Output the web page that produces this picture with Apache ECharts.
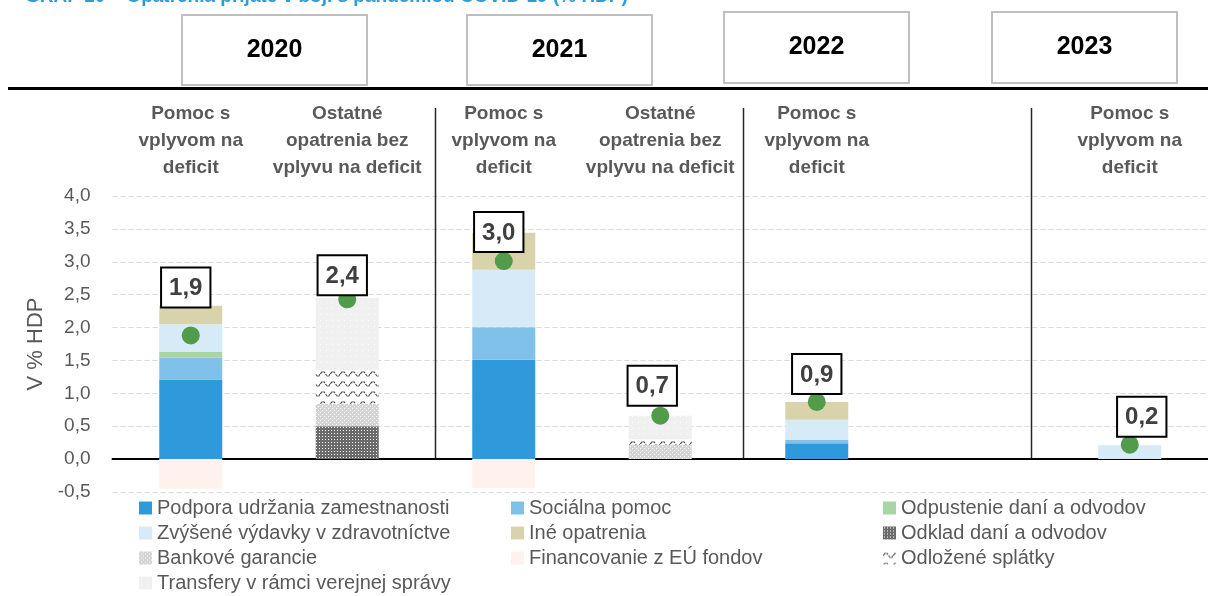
<!DOCTYPE html>
<html>
<head>
<meta charset="utf-8">
<script src="https://cdn.jsdelivr.net/npm/echarts@6/dist/echarts.min.js"></script>
<style>
html, body { margin: 0; padding: 0; background: #fff; }
#chart { width: 1208px; height: 596px; }
</style>
</head>
<body>
<div id="chart"></div>
<script>
// kategórie (7 stĺpcov, 2022 nemá druhý stĺpec)
const categories = ['2020a', '2020b', '2021a', '2021b', '2022a', '2022b', '2023a'];
const categoryLabels = [
    'Pomoc s\nvplyvom na\ndeficit',
    'Ostatné\nopatrenia bez\nvplyvu na deficit',
    'Pomoc s\nvplyvom na\ndeficit',
    'Ostatné\nopatrenia bez\nvplyvu na deficit',
    'Pomoc s\nvplyvom na\ndeficit',
    '',
    'Pomoc s\nvplyvom na\ndeficit'
];
const years = ['2020', '2021', '2022', '2023'];

// hodnoty v % HDP
const podpora      = [1.21, 0, 1.51, 0, 0.24, 0, 0];
const socialna     = [0.33, 0, 0.49, 0, 0.05, 0, 0];
const odpustenie   = [0.09, 0, 0.01, 0, 0, 0, 0];
const zdravotnictvo = [0.42, 0, 0.87, 0, 0.31, 0, 0.21];
const ine          = [0.28, 0, 0.56, 0, 0.27, 0, 0];
const odklad       = [0, 0.50, 0, 0, 0, 0, 0];
const bankove      = [0, 0.34, 0, 0.22, 0, 0, 0];
const odlozene     = [0, 0.51, 0, 0.08, 0, 0, 0];
const transfery    = [0, 1.10, 0, 0.36, 0, 0, 0];
const euFondy      = [-0.45, 0, -0.44, 0, 0, 0, 0];
const spolu        = [1.88, 2.43, 3.01, 0.66, 0.87, '-', 0.22];

// posun štítkov s hodnotou (px)
const labelNudge = [[-5, -20], [-5, 4], [-5, -1], [-8, -2], [0, 0], [0, 0], [12, 0]];

function hasFont(name) {
    const g = document.createElement('canvas').getContext('2d');
    g.font = '40px monospace';
    const a = g.measureText('abcdefghijklmn').width;
    g.font = '40px "' + name + '", monospace';
    return g.measureText('abcdefghijklmn').width !== a;
}
let NARROW = 'Liberation Sans';
let shrink = 0.84;
for (const f of ['Liberation Sans Narrow', 'Arial Narrow']) {
    if (hasFont(f)) { NARROW = f; shrink = 1; break; }
}
const fs = s => Math.round(s * shrink);

// vzory
function tile(w, h, draw) {
    const c = document.createElement('canvas');
    c.width = w; c.height = h;
    draw(c.getContext('2d'));
    return { image: c, repeat: 'repeat' };
}
const patOdklad = tile(3, 3, g => {
    g.fillStyle = '#6b6b6b'; g.fillRect(0, 0, 3, 3);
    g.fillStyle = '#fff'; g.fillRect(1, 1, 1, 1);
});
const patBankove = tile(4, 4, g => {
    g.fillStyle = '#d4d4d4'; g.fillRect(0, 0, 4, 4);
    g.fillStyle = '#fff'; g.fillRect(0, 0, 1, 1); g.fillRect(2, 2, 1, 1);
});
const patOdlozene = tile(10, 10, g => {
    g.fillStyle = '#fff'; g.fillRect(0, 0, 10, 10);
    g.strokeStyle = '#555'; g.lineWidth = 1.2;
    g.beginPath();
    g.moveTo(0, 4); g.lineTo(2.5, 1.5);
    g.moveTo(3.5, 1.5); g.lineTo(5, 3);
    g.moveTo(5.5, 4); g.lineTo(7.5, 6.5);
    g.moveTo(8.5, 6.5); g.lineTo(10, 4);
    g.stroke();
});
const patTransfery = tile(6, 6, g => {
    g.fillStyle = '#f0f0f0'; g.fillRect(0, 0, 6, 6);
    g.fillStyle = '#fff'; g.fillRect(2, 2, 1, 1);
});

const barDefs = [
    ['Podpora udržania zamestnanosti', podpora, '#2e9adb'],
    ['Sociálna pomoc', socialna, '#80c1e9'],
    ['Odpustenie daní a odvodov', odpustenie, '#a9d4a6'],
    ['Zvýšené výdavky v zdravotníctve', zdravotnictvo, '#d6eaf7'],
    ['Iné opatrenia', ine, '#d8d3ab'],
    ['Odklad daní a odvodov', odklad, patOdklad],
    ['Bankové garancie', bankove, patBankove],
    ['Odložené splátky', odlozene, patOdlozene],
    ['Transfery v rámci verejnej správy', transfery, patTransfery],
    ['Financovanie z EÚ fondov', euFondy, '#fff1ee']
];

const legendCols = [
    ['Podpora udržania zamestnanosti', 'Zvýšené výdavky v zdravotníctve', 'Bankové garancie', 'Transfery v rámci verejnej správy'],
    ['Sociálna pomoc', 'Iné opatrenia', 'Financovanie z EÚ fondov'],
    ['Odpustenie daní a odvodov', 'Odklad daní a odvodov', 'Odložené splátky']
];
const legendLeft = [139, 511, 883];

const fmt = v => v.toFixed(1).replace('.', ',');

const chart = echarts.init(document.getElementById('chart'), null, { renderer: 'canvas' });

const series = barDefs.map(([name, data, color]) => ({
    name,
    type: 'bar',
    stack: 'spolu',
    barWidth: 63,
    data,
    itemStyle: { color },
    emphasis: { disabled: true }
}));

series.push({
    name: 'Spolu',
    type: 'scatter',
    symbolSize: 18,
    z: 5,
    itemStyle: { color: '#519b4b', opacity: 1 },
    data: spolu.map((v, i) => v === '-' ? '-' : {
        value: v,
        label: { offset: labelNudge[i] }
    }),
    label: {
        show: true,
        position: 'top',
        distance: 0,
        formatter: p => fmt(p.value),
        fontFamily: NARROW,
        fontSize: fs(28),
        fontWeight: 'bold',
        color: '#404040',
        lineHeight: 32,
        backgroundColor: '#fff',
        borderColor: '#000',
        borderWidth: 2,
        padding: [4, 7, 2, 7]
    },
    emphasis: { disabled: true }
});

chart.setOption({
    animation: false,
    grid: { left: 112.5, right: -3.5, top: 196, bottom: 104 },
    legend: legendCols.map((col, i) => ({
        orient: 'vertical',
        left: legendLeft[i],
        top: 497,
        data: col,
        icon: 'rect',
        itemWidth: 13,
        itemHeight: 13,
        itemGap: 3,
        padding: 0,
        textStyle: {
            fontFamily: NARROW,
            fontSize: fs(24),
            lineHeight: 22,
            color: '#595959'
        }
    })),
    xAxis: [
        {
            type: 'category',
            data: categories,
            position: 'bottom',
            axisLine: { onZero: true, lineStyle: { color: '#000', width: 2 } },
            axisTick: { show: false },
            axisLabel: { show: false },
            splitLine: { show: false }
        },
        {
            type: 'category',
            data: categories,
            position: 'top',
            axisLine: { show: false, onZero: false },
            axisTick: { show: false },
            splitLine: { show: false },
            axisLabel: {
                interval: 0,
                formatter: (v, i) => categoryLabels[i],
                fontFamily: NARROW,
                fontSize: fs(23),
                fontWeight: 'bold',
                lineHeight: 27,
                color: '#595959',
                margin: 15,
                hideOverlap: false
            }
        }
    ],
    yAxis: {
        type: 'value',
        min: -0.5,
        max: 4,
        interval: 0.5,
        axisLine: { show: false },
        axisTick: { show: false },
        axisLabel: {
            formatter: fmt,
            fontFamily: NARROW,
            fontSize: fs(23),
            color: '#595959',
            margin: 22
        },
        splitLine: { lineStyle: { color: '#d9d9d9', type: [5, 3], width: 1 } },
        name: 'V % HDP',
        nameLocation: 'middle',
        nameGap: 63,
        nameTextStyle: { fontFamily: 'Liberation Sans', fontSize: 22, color: '#595959' }
    },
    series
});

// hlavička, roky a zvislé oddeľovače
const zeroY = chart.convertToPixel({ yAxisIndex: 0 }, 0);
const c0 = chart.convertToPixel({ xAxisIndex: 0 }, categories[0]);
const c1 = chart.convertToPixel({ xAxisIndex: 0 }, categories[1]);
const step = c1 - c0;
const sepAt = [1.56, 3.53, 5.37];
const yearBoxes = [[182, 15, 70], [467, 15, 70], [724, 12, 71], [992, 12, 71]];

const graphic = [
    {
        type: 'text',
        left: 25, top: -13,
        style: {
            text: 'GRAF 10 – Opatrenia prijaté v boji s pandémiou COVID-19 (% HDP)',
            font: 'bold 19px "Liberation Sans"',
            fill: '#2e9bd6'
        }
    },
    {
        type: 'line',
        shape: { x1: 8, y1: 88.5, x2: 1208, y2: 88.5 },
        style: { stroke: '#000', lineWidth: 3 }
    }
];
years.forEach((y, i) => {
    const [bx, by, bh] = yearBoxes[i];
    graphic.push({
        type: 'rect',
        shape: { x: bx, y: by, width: 185, height: bh },
        style: { fill: '#fff', stroke: '#bfbfbf', lineWidth: 2 }
    });
    graphic.push({
        type: 'text',
        x: bx + 92.5, y: by + bh / 2,
        style: {
            text: y,
            font: 'bold ' + fs(30) + 'px "' + NARROW + '"',
            fill: '#000',
            align: 'center',
            verticalAlign: 'middle'
        }
    });
});
sepAt.forEach(p => {
    const x = Math.round(c0 + p * step) + 0.5;
    graphic.push({
        type: 'line',
        shape: { x1: x, y1: 108, x2: x, y2: zeroY },
        style: { stroke: '#262626', lineWidth: 1.5 }
    });
});
chart.setOption({ graphic });
</script>
</body>
</html>
